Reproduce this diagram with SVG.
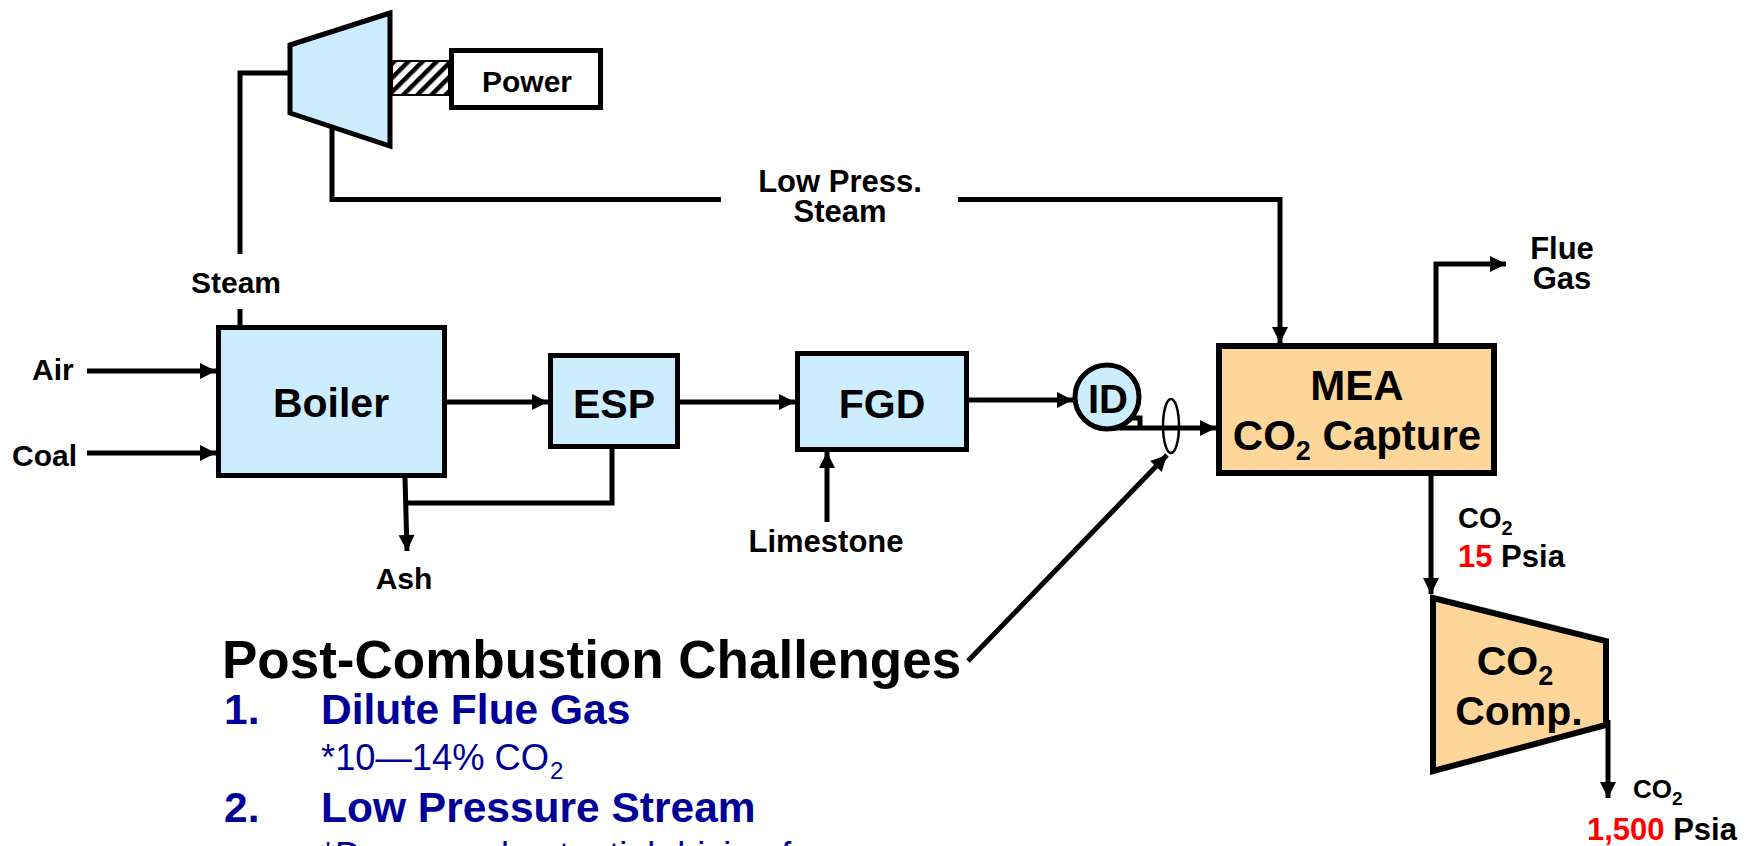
<svg xmlns="http://www.w3.org/2000/svg" width="1752" height="846" viewBox="0 0 1752 846">
<style>
text{font-family:"Liberation Sans",Arial,sans-serif;font-weight:bold;fill:#000}
.c{text-anchor:middle}
.box{fill:#CCECFF;stroke:#000;stroke-width:5}
.org{fill:#FFD699;stroke:#000;stroke-width:6}
.ln{fill:none;stroke:#000;stroke-width:5}
.arr{fill:none;stroke:#000;stroke-width:5;marker-end:url(#ah)}
.blue{fill:#000099}
.red{fill:#FF0000}
.reg{font-weight:normal}
</style>
<defs>
<marker id="ah" markerUnits="userSpaceOnUse" markerWidth="20" markerHeight="20" viewBox="0 0 20 20" refX="17" refY="10" orient="auto">
<path d="M1,2 L17,10 L1,18 Z" fill="#000"/>
</marker>
<pattern id="hatch" patternUnits="userSpaceOnUse" width="10" height="10" patternTransform="rotate(45)">
<rect width="10" height="10" fill="#fff"/>
<rect width="4.5" height="10" fill="#000"/>
</pattern>
</defs>
<rect width="1752" height="846" fill="#fff"/>

<g id="connectors">
<path class="ln" d="M240,325 V309"/>
<path class="ln" d="M240,254 V73 H290"/>
<path class="ln" d="M332,126 V199.5 H721"/>
<path class="arr" d="M958,199.5 H1280 V343"/>
<path class="arr" d="M87,371 H216"/>
<path class="arr" d="M87,453 H216"/>
<path class="arr" d="M447,402 H548"/>
<path class="arr" d="M680,402 H795"/>
<path class="arr" d="M969,400 H1073"/>
<path class="arr" d="M827,522 V452"/>
<path class="arr" d="M405,478 L407,551"/>
<path class="ln" d="M612,449 V503 H407"/>
<path class="arr" d="M1107,428 H1216"/>
<path class="ln" d="M1125,418 H1140 V430"/>
<path class="arr" d="M1436,343 V264 H1506"/>
<path class="arr" d="M1431,476 V594"/>
<path class="arr" d="M1608,720 V798"/>
<path class="arr" d="M968,661 L1167,455"/>
<ellipse cx="1171" cy="426" rx="8" ry="27" fill="none" stroke="#000" stroke-width="2.5"/>
</g>

<g id="turbine">
<polygon points="290,45 390,13 390,146 290,113" fill="#CCECFF" stroke="#000" stroke-width="5"/>
<rect x="392" y="61" width="57" height="34" fill="url(#hatch)" stroke="#000" stroke-width="2"/>
</g>

<g id="power">
<rect x="451.5" y="50.5" width="149" height="57" fill="#fff" stroke="#000" stroke-width="5"/>
<text class="c" x="527" y="92" font-size="30">Power</text>
</g>

<g id="boiler">
<rect class="box" x="218.5" y="327.5" width="226" height="148"/>
<text class="c" x="331" y="417" font-size="41">Boiler</text>
</g>

<g id="esp">
<rect class="box" x="550.5" y="355.5" width="127" height="91"/>
<text class="c" x="614" y="418" font-size="41">ESP</text>
</g>

<g id="fgd">
<rect class="box" x="797.5" y="353.5" width="169" height="96"/>
<text class="c" x="882" y="418" font-size="41">FGD</text>
</g>

<g id="idfan">
<circle cx="1107" cy="397" r="32" class="box"/>
<text class="c" x="1108" y="413" font-size="40">ID</text>
</g>

<g id="mea">
<rect class="org" x="1219" y="346" width="275" height="127"/>
<text class="c" x="1357" y="400" font-size="42">MEA</text>
<text class="c" x="1357" y="450" font-size="42">CO<tspan font-size="27" dy="10">2</tspan><tspan dy="-10"> Capture</tspan></text>
</g>

<g id="compressor">
<polygon class="org" points="1433,598 1606,641 1606,725 1433,771"/>
<text class="c" x="1515" y="675" font-size="41">CO<tspan font-size="27" dy="10">2</tspan></text>
<text class="c" x="1519" y="725" font-size="41">Comp.</text>
</g>

<g id="labels">
<text class="c" x="236" y="293" font-size="30">Steam</text>
<text x="32" y="380" font-size="30">Air</text>
<text x="12" y="466" font-size="30">Coal</text>
<text class="c" x="404" y="589" font-size="30">Ash</text>
<text class="c" x="826" y="552" font-size="31">Limestone</text>
<text class="c" x="840" y="192" font-size="31">Low Press.</text>
<text class="c" x="840" y="222" font-size="31">Steam</text>
<text class="c" x="1562" y="259" font-size="31">Flue</text>
<text class="c" x="1562" y="289" font-size="31">Gas</text>
<text x="1458" y="528" font-size="29">CO<tspan font-size="20" dy="7">2</tspan></text>
<text x="1458" y="567" font-size="31"><tspan class="red">15</tspan> Psia</text>
<text x="1633" y="798" font-size="26">CO<tspan font-size="19" dy="7">2</tspan></text>
<text x="1587" y="840" font-size="31"><tspan class="red">1,500</tspan> Psia</text>
</g>

<g id="challenges">
<text x="222" y="678" font-size="53">Post-Combustion Challenges</text>
<text class="blue" x="224" y="724" font-size="42.5">1.</text>
<text class="blue" x="321" y="724" font-size="42.5">Dilute Flue Gas</text>
<text class="blue reg" x="321" y="770" font-size="36" textLength="228" lengthAdjust="spacingAndGlyphs">*10—14% CO</text>
<text class="blue reg" x="550" y="779" font-size="24">2</text>
<text class="blue" x="224" y="822" font-size="42.5">2.</text>
<text class="blue" x="321" y="822" font-size="42.5">Low Pressure Stream</text>
<text class="blue reg" x="321" y="868" font-size="36">*Decreased potential driving force</text>
</g>
</svg>
